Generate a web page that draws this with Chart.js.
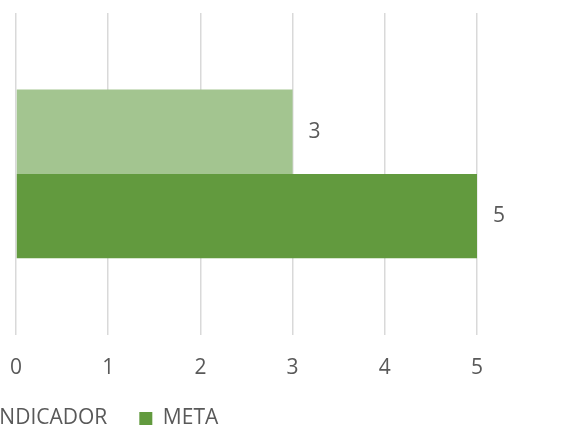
<!DOCTYPE html>
<html>
<head>
<meta charset="utf-8">
<script src="https://cdn.jsdelivr.net/npm/chart.js@4/dist/chart.umd.min.js"></script>
<style>
  html, body { margin: 0; padding: 0; background: #fff; }
  #wrap { position: relative; width: 564px; height: 427px; overflow: hidden; }
  #box { position: absolute; left: -62px; top: 0; width: 626px; height: 465px; }
</style>
</head>
<body>
<div id="wrap"><div id="box"><canvas id="chart"></canvas></div></div>
<script>
  var categories = [''];
  var seriesNames = ['INDICADOR', 'META'];
  var indicador = [3];
  var meta = [5];
  var xTicks = [0, 1, 2, 3, 4, 5];

  var FONT = "'Open Sans', sans-serif";
  var TEXT = '#595959';

  // value labels to the right of each bar
  var valueLabels = {
    id: 'valueLabels',
    afterDatasetsDraw: function (chart) {
      var ctx = chart.ctx;
      ctx.save();
      ctx.font = '21px ' + FONT;
      ctx.fillStyle = TEXT;
      ctx.textBaseline = 'middle';
      chart.data.datasets.forEach(function (ds, i) {
        chart.getDatasetMeta(i).data.forEach(function (bar, j) {
          ctx.fillText(String(ds.data[j]), bar.x + 16, bar.y);
        });
      });
      ctx.restore();
    }
  };

  // legend padding also spaces the items apart, so pull the drawn row up a bit
  var legendShift = {
    id: 'legendShift',
    afterInit: function (chart) {
      var lg = chart.legend;
      var draw = lg.draw;
      lg.draw = function () {
        chart.ctx.save();
        chart.ctx.translate(0, -26);
        draw.apply(this, arguments);
        chart.ctx.restore();
      };
    }
  };

  new Chart(document.getElementById('chart'), {
    type: 'bar',
    data: {
      labels: categories,
      datasets: [{
        label: seriesNames[0],
        data: indicador,
        backgroundColor: '#a3c590'
      }, {
        label: seriesNames[1],
        data: meta,
        backgroundColor: '#629a3e'
      }]
    },
    options: {
      indexAxis: 'y',
      responsive: true,
      maintainAspectRatio: false,
      animation: false,
      layout: { padding: { top: 13, right: 87, bottom: 0 } },
      datasets: { bar: { barPercentage: 1, categoryPercentage: 0.525 } },
      scales: {
        x: {
          min: xTicks[0],
          max: xTicks[xTicks.length - 1],
          afterBuildTicks: function (axis) {
            axis.ticks = xTicks.map(function (v) { return { value: v }; });
          },
          grid: { color: '#d9d9d9', lineWidth: 1.5, drawTicks: false },
          border: { display: false },
          ticks: { color: TEXT, font: { family: FONT, size: 21 }, padding: 21 }
        },
        y: {
          grid: { display: false },
          border: { display: false },
          ticks: { display: false },
          afterFit: function (axis) { axis.width = 78; }
        }
      },
      plugins: {
        legend: {
          position: 'bottom',
          align: 'start',
          labels: {
            color: TEXT,
            font: { family: FONT, size: 21 },
            boxWidth: 13,
            boxHeight: 13,
            padding: 32
          }
        },
        tooltip: { enabled: false }
      }
    },
    plugins: [valueLabels, legendShift]
  });
</script>
</body>
</html>
